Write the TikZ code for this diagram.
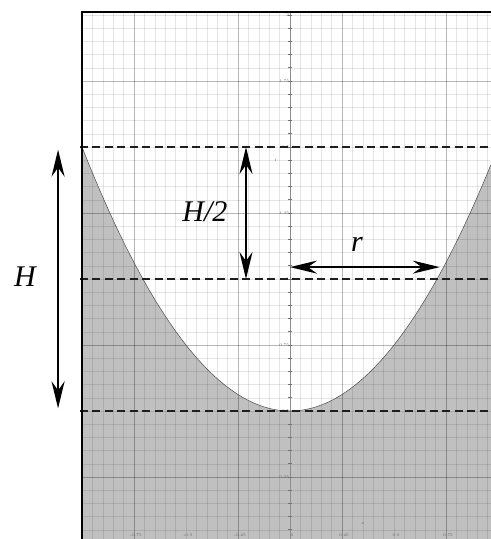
\documentclass[tikz,border=0pt]{standalone}
\usepackage{fontspec}
\newfontfamily\labelfont{Liberation Serif}
\usetikzlibrary{arrows.meta}
\definecolor{shadegray}{RGB}{192,192,192}
\definecolor{dashgray}{RGB}{30,30,30}

\begin{document}
\begin{tikzpicture}[
    x=208pt, y=264pt,
    minorgrid/.style={black, opacity=0.1, line width=0.5pt},
    majorgrid/.style={black, opacity=0.2, line width=0.6pt},
    level/.style={dashgray, line width=2.8pt, dash pattern=on 8pt off 4.5pt},
    dimarrow/.style={{Stealth[length=27pt,width=13pt,inset=9pt]}-{Stealth[length=27pt,width=13pt,inset=9pt]}, line width=2.1pt},
    biglabel/.style={font=\labelfont\fontsize{30}{32}\selectfont\itshape, inner sep=0pt},
    ticklabel/.style={font=\fontsize{4}{4}\selectfont, text=black!60, inner sep=0.6pt}
]
    \useasboundingbox (-1.3942,0.01515) rectangle (0.9663,2.0568);

    % shaded region below the curve
    \fill[shadegray] (-1,0.01515) -- plot[domain=-1:0.9663, samples=100] (\x,{0.5+\x*\x}) -- (0.9663,0.01515) -- cycle;

    % grid and axis
    \begin{scope}
        \clip (-1,0.01515) rectangle (0.9663,2.011);
        \foreach \i in {-20,...,19}
            \draw[minorgrid] ({\i*0.05},0) -- ({\i*0.05},2.011);
        \foreach \j in {1,...,40}
            \draw[minorgrid] (-1,{\j*0.05}) -- (0.9663,{\j*0.05});
        \foreach \gx in {-0.75,-0.25,0.25,0.75}
            \draw[majorgrid] (\gx,0) -- (\gx,2.011);
        \foreach \gy in {0.25,0.75,1.25,1.75}
            \draw[majorgrid] (-1,\gy) -- (0.9663,\gy);
        \draw[black!45, line width=0.8pt] (0,0) -- (0,2.011);
        \foreach \j in {1,...,40}
            \draw[black!55, line width=0.6pt] (-0.008,{\j*0.05}) -- (0.008,{\j*0.05});
    \end{scope}

    % tick labels
    \foreach \gy in {0.25,0.5,0.75,1,1.25,1.5,1.75,2}
        \node[ticklabel, anchor=east] (ty\gy) at (0,\gy) {\gy};
    \foreach \gx in {-0.75,-0.5,-0.25,0,0.25,0.5,0.75}
        \node[ticklabel] (tx\gx) at (\gx+0.01,0.03) {\gx};
    \node[ticklabel] (fname) at (-0.07,1.45) {f};
    \node[ticklabel] (xname) at (0.35,0.072) {x};

    % curve
    \draw[black!70, line width=0.5pt] plot[domain=-1:0.9663, samples=100] (\x,{0.5+\x*\x});

    % levels
    \draw[level] (-1.01,1.5) -- (0.9663,1.5);
    \draw[level] (-1.01,1) -- (0.9663,1);
    \draw[level] (-1.01,0.5) -- (0.9663,0.5);

    % frame
    \draw[black, line width=2.6pt] (-1,0.01515) -- (-1,2.011) -- (0.9663,2.011);

    % dimensions
    \coordinate (Htop) at (-1.115,1.49);
    \coordinate (Hbot) at (-1.115,0.51);
    \coordinate (halftop) at (-0.2115,1.5);
    \coordinate (halfbot) at (-0.2115,1.0);
    \coordinate (raxis) at (0,1.045);
    \coordinate (rcurve) at (0.72,1.045);
    \draw[dimarrow] (Htop) -- (Hbot);
    \draw[dimarrow] (halftop) -- (halfbot);
    \draw[dimarrow] (raxis) -- (rcurve);
    \node[biglabel] (Hlabel) at (-1.274,1.008) {H};
    \node[biglabel] (halflabel) at (-0.409,1.254) {H/2};
    \node[biglabel] (rlabel) at (0.322,1.13) {r};
\end{tikzpicture}
\end{document}
